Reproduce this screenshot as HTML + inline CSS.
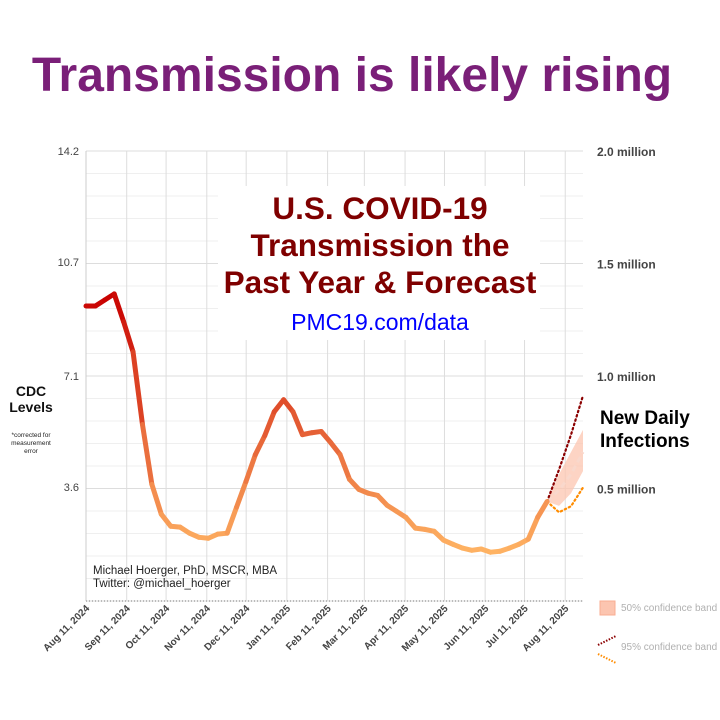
<!DOCTYPE html>
<html><head><meta charset="utf-8"><style>
html,body{margin:0;padding:0;background:#fff;width:720px;height:720px;overflow:hidden}
svg{display:block;font-family:"Liberation Sans",Arial,sans-serif}
</style></head><body>
<svg id="chart" width="720" height="720" viewBox="0 0 720 720">
<text x="352" y="91" text-anchor="middle" font-size="48" font-weight="bold" fill="#7a1f78">Transmission is likely rising</text>
<g id="grid"></g>
<g id="yaxis"></g>
<g id="raxis"></g>
<g id="xaxis"></g>
<rect x="218" y="186" width="322" height="154" fill="#fff"/>
<g font-weight="bold" fill="#7f0000" font-size="31.5" text-anchor="middle">
<text x="380" y="219">U.S. COVID-19</text>
<text x="380" y="256">Transmission the</text>
<text x="380" y="293">Past Year &amp; Forecast</text>
</g>
<text x="380" y="330" text-anchor="middle" font-size="23" fill="#0000ff">PMC19.com/data</text>
<g id="forecast"></g>
<g id="series"></g>
<text x="93" y="574" font-size="11.5" fill="#222">Michael Hoerger, PhD, MSCR, MBA</text>
<text x="93" y="587" font-size="11.5" fill="#222">Twitter: @michael_hoerger</text>
<g text-anchor="middle">
<text x="31" y="396" font-size="14" font-weight="bold" fill="#111">CDC</text>
<text x="31" y="412" font-size="14" font-weight="bold" fill="#111">Levels</text>
<text x="31" y="437" font-size="6.5" fill="#222">*corrected for</text>
<text x="31" y="445" font-size="6.5" fill="#222">measurement</text>
<text x="31" y="453" font-size="6.5" fill="#222">error</text>
</g>
<g font-size="19" font-weight="bold" fill="#000">
<text x="600" y="424">New Daily</text>
<text x="600" y="447">Infections</text>
</g>
<g>
<rect x="600" y="601" width="15" height="14" fill="#fcc5b0" stroke="#f9ad92"/>
<text x="621" y="611" font-size="10" fill="#b0b0b0">50% confidence band</text>
<line x1="598" y1="645" x2="616" y2="636" stroke="#8b0000" stroke-width="2" stroke-dasharray="1.5,1.5"/>
<line x1="598" y1="654" x2="616" y2="663" stroke="#ff8c00" stroke-width="2" stroke-dasharray="1.5,1.5"/>
<text x="621" y="650" font-size="10" fill="#b0b0b0">95% confidence band</text>
</g>
</svg>
<script>
const weeklyLevels=[9.31,9.31,9.50,9.69,8.81,7.86,5.57,3.68,2.74,2.36,2.33,2.14,2.01,1.98,2.11,2.14,2.96,3.77,4.62,5.22,5.97,6.35,5.97,5.25,5.31,5.35,5.0,4.62,3.84,3.52,3.40,3.33,3.02,2.83,2.64,2.30,2.26,2.20,1.92,1.79,1.67,1.60,1.64,1.54,1.57,1.67,1.79,1.95,2.64,3.14];
const upper95=[3.14,4.15,5.25,6.48];
const lower95=[3.14,2.80,2.99,3.58];
const upper50=[3.14,4.0,4.7,5.4];
const lower50=[3.14,3.0,3.4,4.1];
const median=[3.14,3.5,4.0,4.7];
const leftTicks=[3.6,7.1,10.7,14.2];
const leftTickLabels=["3.6","7.1","10.7","14.2"];
const rightTicks=[0.5,1.0,1.5,2.0];
const rightTickLabels=["0.5 million","1.0 million","1.5 million","2.0 million"];
const xTickLabels=["Aug 11, 2024","Sep 11, 2024","Oct 11, 2024","Nov 11, 2024","Dec 11, 2024","Jan 11, 2025","Feb 11, 2025","Mar 11, 2025","Apr 11, 2025","May 11, 2025","Jun 11, 2025","Jul 11, 2025","Aug 11, 2025"];
const xTickDays=[0,31,61,92,122,153,184,212,243,273,304,334,365];

const NS="http://www.w3.org/2000/svg";
const X0=86,X1=583,Y0=601,YT=151;
const xDay=d=>X0+d*1.313;
const xWeek=i=>X0+i*9.41;
const yL=v=>Y0-(v/14.2)*(Y0-YT);
const yR=v=>Y0-(v/2.0)*(Y0-YT);
function mk(tag,attrs,parent){const e=document.createElementNS(NS,tag);for(const k in attrs)e.setAttribute(k,attrs[k]);parent.appendChild(e);return e;}
const grid=document.getElementById('grid');
for(let k=0;k<=20;k++){
  const v=k*14.2/20,y=yL(v);
  const l=mk('line',{x1:X0,x2:X1,y1:y,y2:y,stroke:k%5==0?'#ddd':'#efefef','stroke-width':1},grid);
  
  
}
xTickDays.forEach(d=>{
  const x=xDay(d);
  const l=mk('line',{x1:x,x2:x,y1:YT,y2:Y0,stroke:'#ddd','stroke-width':1},grid);
  
  
});
mk('line',{x1:X0,x2:X0,y1:YT,y2:Y0,stroke:'#ccc'},grid);
mk('line',{x1:X0,x2:X1,y1:Y0,y2:Y0,stroke:'#bbb','stroke-width':2,'stroke-dasharray':'1,2'},grid);
const ya=document.getElementById('yaxis');
leftTicks.forEach((v,i)=>{
  const t=mk('text',{x:79,y:yL(v)+4,'text-anchor':'end','font-size':11,fill:'#444'},ya);
  t.textContent=leftTickLabels[i];
  
  
});
const ra=document.getElementById('raxis');
rightTicks.forEach((v,i)=>{
  const t=mk('text',{x:597,y:yR(v)+5,'font-size':12,'font-weight':'bold',fill:'#444'},ra);
  t.textContent=rightTickLabels[i];
  
  
});
const xa=document.getElementById('xaxis');
xTickDays.forEach((d,i)=>{
  const x=xDay(d)+4;
  const t=mk('text',{x:x,y:609,'text-anchor':'end','font-size':10,'font-weight':'bold',fill:'#444',transform:`rotate(-45 ${x} 609)`},xa);
  t.textContent=xTickLabels[i];
  
  
});
const fc=document.getElementById('forecast');
const n=weeklyLevels.length-1;
const fx=i=>xWeek(n)+i*(X1-xWeek(n))/3;
let band='M'+upper50.map((v,i)=>fx(i)+','+yL(v)).join(' L');
band+=' L'+lower50.map((v,i)=>fx(i)+','+yL(v)).reverse().join(' L')+' Z';
const b=mk('path',{d:band,fill:'#fcc5b0',opacity:0.75},fc);


const med=mk('polyline',{points:median.map((v,i)=>fx(i)+','+yL(v)).join(' '),fill:'none',stroke:'#f9d8cc','stroke-width':3,'stroke-dasharray':'6,4'},fc);


const up=mk('polyline',{points:upper95.map((v,i)=>fx(i)+','+yL(v)).join(' '),fill:'none',stroke:'#8b0000','stroke-width':2.2,'stroke-dasharray':'1.5,3','stroke-linecap':'round'},fc);


const lo=mk('polyline',{points:lower95.map((v,i)=>fx(i)+','+yL(v)).join(' '),fill:'none',stroke:'#ff8c00','stroke-width':2.2,'stroke-dasharray':'1.5,3','stroke-linecap':'round'},fc);


const s=document.getElementById('series');
function col(v){const t=Math.max(0,Math.min(1,(v-1.5)/(9.7-1.5)));
  const a=[255,180,100],c=[200,0,0];
  return `rgb(${Math.round(a[0]+(c[0]-a[0])*t)},${Math.round(a[1]+(c[1]-a[1])*t)},${Math.round(a[2]+(c[2]-a[2])*t)})`;}
for(let i=0;i<n;i++){
  const v0=weeklyLevels[i],v1=weeklyLevels[i+1];
  const l=mk('line',{x1:xWeek(i),y1:yL(v0),x2:xWeek(i+1),y2:yL(v1),stroke:col((v0+v1)/2),'stroke-width':5,'stroke-linecap':'round'},s);
  
  
}
</script>
</body></html>
